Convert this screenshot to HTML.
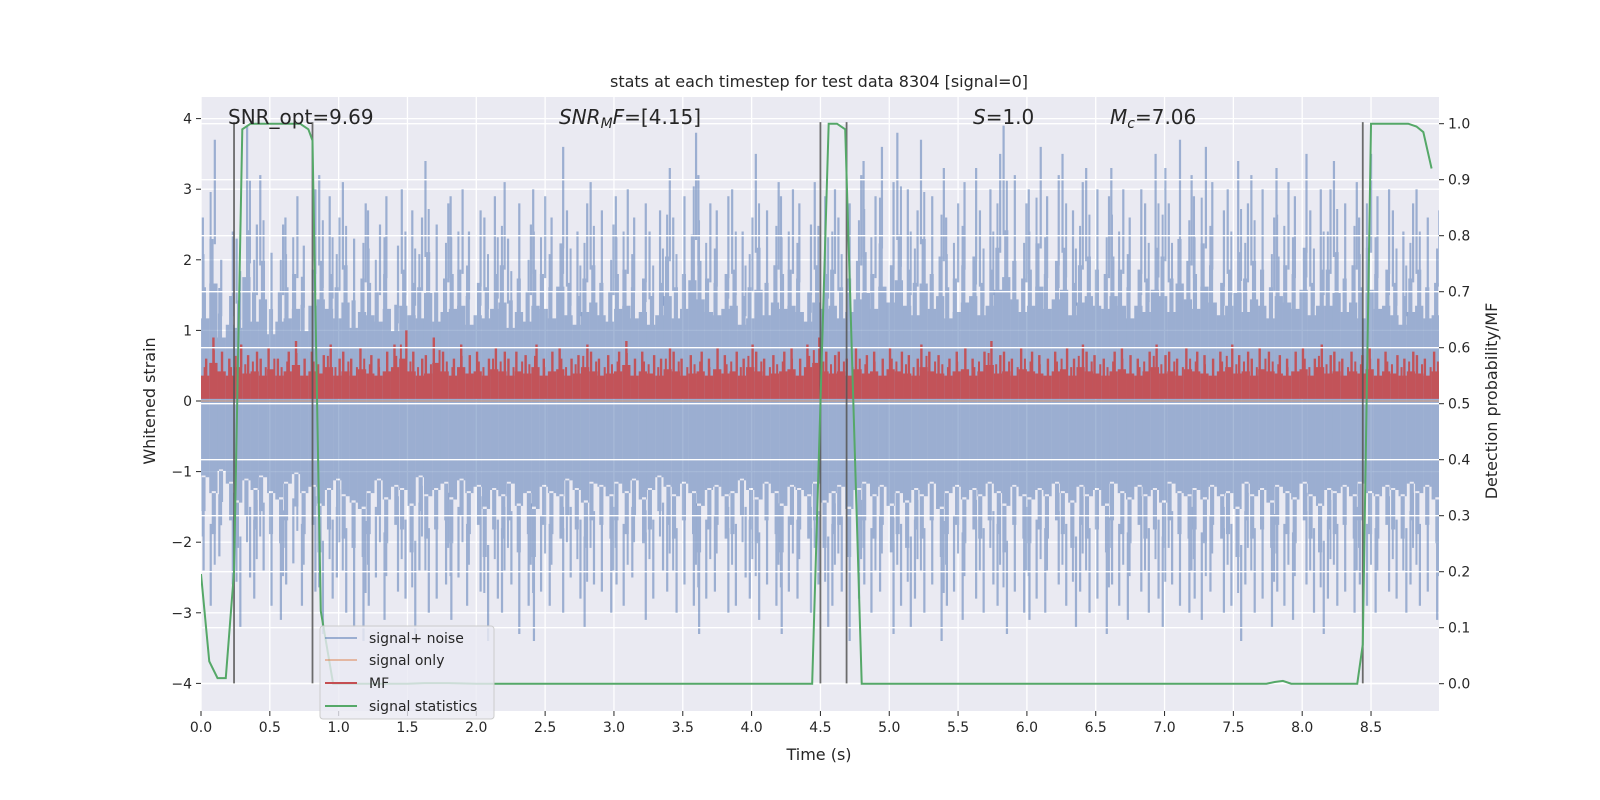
<!DOCTYPE html>
<html><head><meta charset="utf-8"><style>
body{margin:0;background:#fff;}
svg{display:block;font-family:"DejaVu Sans","Liberation Sans",sans-serif;}
</style></head><body>
<svg id="chart" width="1600" height="800" viewBox="0 0 1600 800"></svg>
<script>
// ---- data ----
const xTicks=[0,0.5,1,1.5,2,2.5,3,3.5,4,4.5,5,5.5,6,6.5,7,7.5,8,8.5];
const xTickLabels=["0.0","0.5","1.0","1.5","2.0","2.5","3.0","3.5","4.0","4.5","5.0","5.5","6.0","6.5","7.0","7.5","8.0","8.5"];
const yTicks=[-4,-3,-2,-1,0,1,2,3,4];
const yTickLabels=["\u22124","\u22123","\u22122","\u22121","0","1","2","3","4"];
const pTicks=[0,0.1,0.2,0.3,0.4,0.5,0.6,0.7,0.8,0.9,1.0];
const pTickLabels=["0.0","0.1","0.2","0.3","0.4","0.5","0.6","0.7","0.8","0.9","1.0"];
const binWidth=0.06;
const noiseHi=[2.6,3.7,2.0,2.4,2.3,3.9,2.5,3.2,2.1,2.5,2.6,2.9,2.2,3.0,3.2,2.9,2.6,3.1,2.3,2.8,
2.7,2.5,2.9,2.2,3.0,2.7,2.6,3.4,2.5,2.8,2.9,3.0,2.4,2.7,2.6,2.9,3.1,2.3,2.8,2.5,
3.0,2.9,2.6,3.6,2.7,2.4,2.8,3.1,2.7,2.5,2.9,3.0,2.6,2.8,2.4,2.7,3.3,2.6,2.9,3.8,
3.2,2.8,2.7,2.9,3.0,2.4,2.6,3.5,2.7,3.1,2.9,3.0,2.8,2.5,3.1,2.9,3.0,2.6,2.8,3.2,
3.4,2.9,3.6,3.1,3.8,3.0,2.7,3.7,2.9,3.3,2.6,2.8,3.1,3.3,2.7,3.0,3.5,3.9,3.2,2.8,
3.0,3.6,2.9,3.2,3.5,2.7,3.1,3.3,3.0,2.9,3.3,3.0,2.6,3.0,2.8,3.5,3.3,2.8,3.7,3.2,
2.9,3.6,3.1,2.7,3.0,3.4,2.8,3.2,3.0,2.6,3.3,3.1,2.9,3.5,2.7,3.0,3.0,3.4,2.8,3.1,
2.6,3.5,2.9,3.0,2.7,2.4,2.8,3.0,2.6,2.7];
const noiseLo=[-2.4,-2.9,-2.2,-2.6,-3.2,-2.5,-2.8,-2.4,-2.9,-3.1,-2.6,-2.3,-2.9,-2.7,-3.3,-2.8,-2.5,-3.0,-3.2,-3.4,
-2.9,-2.5,-3.1,-2.7,-2.8,-3.3,-2.4,-3.0,-2.8,-2.6,-3.1,-2.5,-2.9,-2.7,-3.4,-2.8,-3.0,-2.6,-3.3,-2.9,
-3.4,-2.7,-2.9,-3.0,-2.5,-2.8,-3.2,-2.6,-2.7,-3.0,-2.6,-2.9,-2.5,-3.1,-2.8,-2.4,-2.7,-3.0,-2.6,-2.9,
-3.3,-2.8,-2.7,-3.0,-2.9,-2.5,-2.8,-3.1,-2.6,-2.9,-3.3,-2.7,-2.8,-3.0,-2.6,-3.2,-2.9,-2.7,-3.4,-2.8,
-2.6,-3.0,-2.7,-3.3,-2.9,-3.2,-2.8,-3.0,-2.6,-3.4,-2.9,-2.7,-3.1,-2.8,-3.0,-2.6,-2.9,-3.3,-2.7,-3.0,
-3.1,-2.8,-3.0,-2.6,-2.9,-3.2,-2.7,-3.0,-2.8,-3.3,-2.6,-2.9,-3.1,-2.7,-3.0,-2.8,-3.2,-2.6,-2.9,-3.0,
-2.8,-3.1,-2.7,-3.0,-2.9,-3.4,-2.6,-3.0,-2.8,-3.2,-2.7,-2.9,-3.1,-2.6,-3.0,-3.3,-2.8,-2.9,-2.7,-3.0,
-2.6,-2.9,-3.0,-2.7,-2.8,-3.0,-2.6,-2.9,-2.7,-3.1];
const mfHi=[0.6,0.9,0.7,0.6,0.8,0.65,0.7,0.6,0.75,0.6,0.7,0.85,0.6,0.7,0.65,0.8,0.6,0.7,0.6,0.75,
0.65,0.6,0.7,0.8,1.0,0.7,0.6,0.65,0.9,0.7,0.6,0.8,0.65,0.7,0.6,0.75,0.7,0.6,0.7,0.65,
0.8,0.6,0.7,0.75,0.6,0.65,0.8,0.7,0.6,0.65,0.7,0.85,0.6,0.7,0.65,0.6,0.75,0.7,0.6,0.65,
0.7,0.6,0.75,0.65,0.7,0.6,0.8,0.7,0.6,0.65,0.7,0.75,0.6,0.8,0.9,0.7,0.65,0.7,0.6,0.75,
0.65,0.7,0.6,0.75,0.7,0.65,0.6,0.8,0.7,0.65,0.6,0.7,0.75,0.6,0.7,0.85,0.65,0.7,0.6,0.75,
0.7,0.65,0.6,0.7,0.75,0.6,0.8,0.7,0.65,0.6,0.7,0.75,0.65,0.6,0.7,0.8,0.65,0.7,0.6,0.75,
0.7,0.65,0.6,0.7,0.8,0.65,0.7,0.6,0.75,0.7,0.65,0.6,0.7,0.75,0.6,0.8,0.65,0.7,0.6,0.7,
0.65,0.75,0.6,0.7,0.65,0.6,0.7,0.65,0.6,0.7];
const statT=[0,0.06,0.12,0.18,0.24,0.30,0.36,0.42,0.54,0.66,0.72,0.78,0.81,0.87,0.96,1.5,1.62,1.8,2.0,4.44,4.56,4.62,4.68,4.80,7.74,7.80,7.86,7.92,8.40,8.44,8.50,8.62,8.77,8.83,8.88,8.94];
const statP=[0.196,0.04,0.01,0.01,0.2,0.99,1.0,1.0,1.0,1.0,1.0,0.99,0.97,0.13,0.0,0.0,0.001,0.001,0.0,0.0,1.0,1.0,0.99,0.0,0.0,0.003,0.005,0.0,0.0,0.07,1.0,1.0,1.0,0.995,0.985,0.92];
const markerT=[0.24,0.81,4.50,4.69,8.44];
const markerTop=3.95;

// ---- scales ----
const L=201,R=1439,T=97,B=711;
const X=t=>L+t*137.65;
const Y=v=>401-v*70.6;
const P=p=>683.7-p*560;
const NS="http://www.w3.org/2000/svg";
const svg=document.getElementById('chart');
function mk(tag,attrs,parent){const e=document.createElementNS(NS,tag);for(const k in attrs)e.setAttribute(k,attrs[k]);(parent||svg).appendChild(e);return e;}

const bg=mk('rect',{x:L,y:T,width:R-L,height:B-T,fill:'#eaeaf2'});


const clip=mk('clipPath',{id:'pc'});mk('rect',{x:L,y:T,width:R-L,height:B-T},clip);

const gridL=mk('g',{stroke:'#fff','stroke-width':1.3});


xTicks.forEach(t=>mk('line',{x1:X(t),x2:X(t),y1:T,y2:B},gridL));
yTicks.forEach(v=>mk('line',{x1:L,x2:R,y1:Y(v),y2:Y(v)},gridL));

const noise=mk('g',{'clip-path':'url(#pc)',fill:'#4c72b0','fill-opacity':0.5,stroke:'none'});


const bw=binWidth*137.65;
const offs=[0.1,0.6,0.35,0.8,0.2,0.5,0.7,0.05,0.45,0.9];
noiseHi.forEach((h,i)=>{
  const x=X(i*binWidth);
  const lo=noiseLo[i];
  const o1=offs[i%10], o2=offs[(i*3+4)%10];
  let d=`M${x},${Y(h*0.45)}H${x+bw}V${Y(lo*0.45)}H${x}Z`;
  d+=`M${x+bw*o2*0.5},${Y(h*0.62)}h${bw*0.5}V${Y(h*0.44)}h${-bw*0.5}Z`;
  d+=`M${x+bw*o1*0.5},${Y(lo*0.65)}h${bw*0.5}V${Y(lo*0.44)}h${-bw*0.5}Z`;
  d+=`M${x+bw*o1*0.9},${Y(h)}h2.2V${Y(h*0.6)}h-2.2Z`;
  d+=`M${x+bw*o2*0.9},${Y(h*0.8)}h2V${Y(h*0.5)}h-2Z`;
  d+=`M${x+bw*o2*0.9},${Y(lo)}h2.2V${Y(lo*0.6)}h-2.2Z`;
  d+=`M${x+bw*o1*0.9},${Y(lo*0.8)}h2V${Y(lo*0.5)}h-2Z`;
  mk('path',{d},noise);
});

const so=mk('line',{x1:L,x2:R,y1:Y(0),y2:Y(0),stroke:'#dd8452','stroke-opacity':0.5,'stroke-width':1.5});



const mf=mk('g',{'clip-path':'url(#pc)',fill:'#c44e52','fill-opacity':0.95});


mfHi.forEach((h,i)=>{
  const x=X(i*binWidth);
  const o=offs[(i*7+1)%10];
  let d=`M${x},${Y(h*0.6)}H${x+bw}V${Y(0.03)}H${x}Z`;
  d+=`M${x+bw*o*0.8},${Y(h)}h2.4V${Y(h*0.6)}h-2.4Z`;
  d+=`M${x+bw*(1-o)*0.8},${Y(h*0.8)}h2V${Y(h*0.6)}h-2Z`;
  mk('path',{d},mf);
});

const gridR=mk('g',{stroke:'#fff','stroke-width':1.3});


pTicks.forEach(p=>mk('line',{x1:L,x2:R,y1:P(p),y2:P(p)},gridR));

const mkG=mk('g',{stroke:'#555','stroke-width':1.8,'stroke-opacity':0.85});


markerT.forEach(t=>mk('line',{x1:X(t),x2:X(t),y1:Y(-4),y2:Y(markerTop)},mkG));

const sl=mk('polyline',{points:statT.map((t,i)=>X(t)+','+P(statP[i])).join(' '),fill:'none',stroke:'#55a868','stroke-width':2,'clip-path':'url(#pc)'});



const ax=mk('g',{fill:'#262626','font-size':14});


xTicks.forEach((t,i)=>{mk('line',{x1:X(t),x2:X(t),y1:B,y2:B+5,stroke:'#262626'},ax);const e=mk('text',{x:X(t),y:B+21,'text-anchor':'middle'},ax);e.textContent=xTickLabels[i];});
yTicks.forEach((v,i)=>{mk('line',{x1:L-5,x2:L,y1:Y(v),y2:Y(v),stroke:'#262626'},ax);const e=mk('text',{x:L-9,y:Y(v)+5,'text-anchor':'end'},ax);e.textContent=yTickLabels[i];});
pTicks.forEach((p,i)=>{mk('line',{x1:R,x2:R+5,y1:P(p),y2:P(p),stroke:'#262626'},ax);const e=mk('text',{x:R+9,y:P(p)+5},ax);e.textContent=pTickLabels[i];});
</script>
<div style="position:absolute;left:0;top:0;width:1600px;height:800px;pointer-events:none">
<svg width="1600" height="800" style="position:absolute;left:0;top:0">
 <g font-family="DejaVu Sans, Liberation Sans, sans-serif" fill="#262626">
  <text x="819" y="87" font-size="16" text-anchor="middle">stats at each timestep for test data 8304 [signal=0]</text>
  <text x="819" y="760" font-size="16" text-anchor="middle">Time (s)</text>
  <text transform="translate(155,401) rotate(-90)" font-size="16" text-anchor="middle">Whitened strain</text>
  <text transform="translate(1497,401) rotate(-90)" font-size="16" text-anchor="middle">Detection probability/MF</text>
  <text x="228" y="124" font-size="20">SNR_opt=9.69</text>
  <text x="559" y="124" font-size="20"><tspan font-style="italic">SNR</tspan><tspan font-style="italic" font-size="14" dy="4">M</tspan><tspan font-style="italic" dy="-4">F</tspan>=[4.15]</text>
  <text x="973" y="124" font-size="20"><tspan font-style="italic">S</tspan>=1.0</text>
  <text x="1110" y="124" font-size="20"><tspan font-style="italic">M</tspan><tspan font-style="italic" font-size="14" dy="4">c</tspan><tspan dy="-4">=7.06</tspan></text>
 </g>
 <g font-family="DejaVu Sans, Liberation Sans, sans-serif" font-size="14" fill="#262626">
  <rect x="320" y="626" width="174" height="93" rx="3" fill="#eaeaf2" fill-opacity="0.8" stroke="#cccccc"/>
  <g><line x1="325" x2="357" y1="638" y2="638" stroke="#4c72b0" stroke-opacity="0.5" stroke-width="2"/><text x="369" y="643">signal+ noise</text></g>
  <g><line x1="325" x2="357" y1="660" y2="660" stroke="#dd8452" stroke-opacity="0.5" stroke-width="2"/><text x="369" y="665">signal only</text></g>
  <g><line x1="325" x2="357" y1="683" y2="683" stroke="#c44e52" stroke-width="2"/><text x="369" y="688">MF</text></g>
  <g><line x1="325" x2="357" y1="706" y2="706" stroke="#55a868" stroke-width="2"/><text x="369" y="711">signal statistics</text></g>
 </g>
</svg>
</div>
</body></html>
